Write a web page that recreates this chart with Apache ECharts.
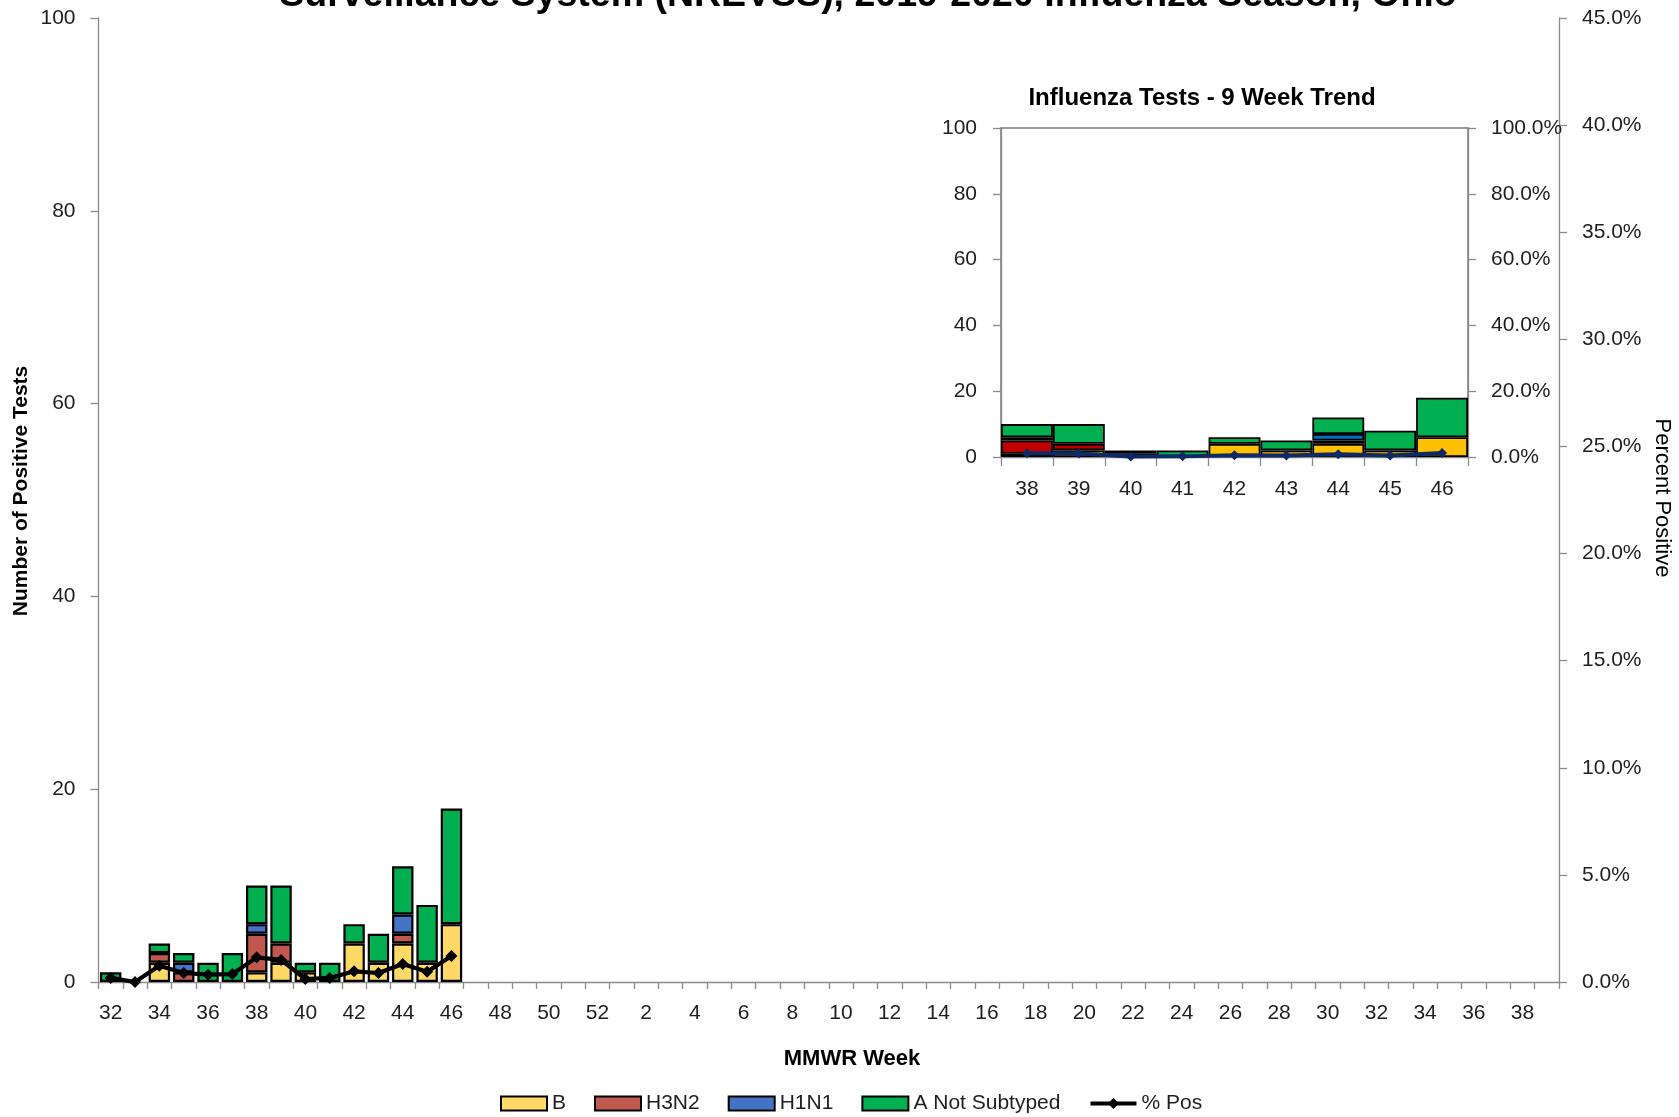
<!DOCTYPE html>
<html>
<head>
<meta charset="utf-8">
<script src="https://cdn.jsdelivr.net/npm/echarts@6/dist/echarts.min.js"></script>
<style>
html,body{margin:0;padding:0;background:#fff;}
#c{width:1679px;height:1117px;}
</style>
</head>
<body>
<div id="c"></div>
<script>
// ---- data ----
const weeks = ['32','33','34','35','36','37','38','39','40','41','42','43','44','45','46','47','48','49','50','51','52',
  '1','2','3','4','5','6','7','8','9','10','11','12','13','14','15','16','17','18','19','20',
  '21','22','23','24','25','26','27','28','29','30','31','32','33','34','35','36','37','38','39'];
const seriesNames = ['B', 'H3N2', 'H1N1', 'A Not Subtyped'];
const B      = [0, 0, 2, 0, 0, 0, 1, 2, 1, 0, 4, 2, 4, 2, 6];
const H3N2   = [0, 0, 1, 1, 0, 0, 4, 2, 0, 0, 0, 0, 1, 0, 0];
const H1N1   = [0, 0, 0, 1, 0, 0, 1, 0, 0, 0, 0, 0, 2, 0, 0];
const ANS    = [1, 0, 1, 1, 2, 3, 4, 6, 1, 2, 2, 3, 5, 6, 12];
const pctPos = [0.19, 0, 0.76, 0.42, 0.34, 0.37, 1.15, 1.03, 0.14, 0.19, 0.50, 0.42, 0.84, 0.48, 1.21];
const leftTicks  = {min: 0, max: 100, interval: 20};
const rightTicks = {min: 0, max: 45, interval: 5};
const insetStart = 6;   // index of week 38
const insetEnd   = 15;  // through week 46
const insetWeeks = weeks.slice(insetStart, insetEnd);

// ---- styles ----
const FONT = "'Liberation Sans', Arial, sans-serif";
const TXT = '#1e1e1e';
const AX = '#8a8a8a';
const mainColors  = ['#FFD966', '#C0584F', '#4472C4', '#00B050'];
const insetColors = ['#FFC000', '#C00000', '#0070C0', '#00B050'];
const noZero = arr => arr.map(v => (v === 0 ? '-' : v));
const valuesList = [B, H3N2, H1N1, ANS];

function axisBase(extra) {
  return Object.assign({
    axisLine: {show: true, lineStyle: {color: AX, width: 1.3}},
    axisTick: {show: true, length: 8, lineStyle: {color: AX, width: 1.3}},
    splitLine: {show: false},
    axisLabel: {fontSize: 21, color: TXT, fontFamily: FONT}
  }, extra);
}

const series = [];
seriesNames.forEach((n, i) => {
  series.push({
    name: n, type: 'bar', stack: 'main', xAxisIndex: 0, yAxisIndex: 0,
    barCategoryGap: '12%',
    data: noZero(valuesList[i]),
    itemStyle: {color: mainColors[i], borderColor: '#000', borderWidth: 2.2},
    emphasis: {disabled: true}
  });
});
series.push({
  name: '% Pos', type: 'line', xAxisIndex: 0, yAxisIndex: 1,
  data: pctPos, symbol: 'diamond', symbolSize: 12,
  itemStyle: {color: '#000'}, lineStyle: {color: '#000', width: 4.2}, z: 5,
  emphasis: {disabled: true}
});
seriesNames.forEach((n, i) => {
  series.push({
    name: n + ' (9 wk)', type: 'bar', stack: 'inset', xAxisIndex: 1, yAxisIndex: 2,
    barCategoryGap: '0%',
    data: noZero(valuesList[i].slice(insetStart, insetEnd)),
    itemStyle: {color: insetColors[i], borderColor: '#000', borderWidth: 1.8},
    emphasis: {disabled: true}
  });
});
series.push({
  name: '% Pos (9 wk)', type: 'line', xAxisIndex: 1, yAxisIndex: 3,
  data: pctPos.slice(insetStart, insetEnd), symbol: 'diamond', symbolSize: 10,
  itemStyle: {color: '#0E2A66'}, lineStyle: {color: '#0E2A66', width: 4}, z: 5,
  emphasis: {disabled: true}
});

const option = {
  animation: false,
  backgroundColor: '#fff',
  textStyle: {fontFamily: FONT},
  grid: [
    {left: 98.5, right: 120, top: 18, bottom: 135},
    {left: 1001, right: 211, top: 128, bottom: 660, show: true, borderColor: '#7a7a7a', borderWidth: 1.5, backgroundColor: 'rgba(255,255,255,0)'}
  ],
  xAxis: [
    axisBase({gridIndex: 0, type: 'category', data: weeks,
      axisTick: {show: true, interval: 0, length: 7, lineStyle: {color: AX, width: 1.3}},
      axisLabel: {interval: 1, margin: 21, fontSize: 21, color: TXT, fontFamily: FONT}}),
    axisBase({gridIndex: 1, type: 'category', data: insetWeeks,
      axisTick: {show: true, interval: 0, length: 9, lineStyle: {color: AX, width: 1.3}},
      axisLabel: {interval: 0, margin: 22, fontSize: 21, color: TXT, fontFamily: FONT}})
  ],
  yAxis: [
    axisBase({gridIndex: 0, type: 'value', position: 'left', min: leftTicks.min, max: leftTicks.max, interval: leftTicks.interval,
      axisLabel: {margin: 23, fontSize: 21, color: TXT, fontFamily: FONT}}),
    axisBase({gridIndex: 0, type: 'value', position: 'right', min: rightTicks.min, max: rightTicks.max, interval: rightTicks.interval,
      axisLabel: {margin: 23, fontSize: 21, color: TXT, fontFamily: FONT, formatter: v => v.toFixed(1) + '%'}}),
    axisBase({gridIndex: 1, type: 'value', position: 'left', min: leftTicks.min, max: leftTicks.max, interval: leftTicks.interval,
      axisLabel: {margin: 24, fontSize: 21, color: TXT, fontFamily: FONT}}),
    axisBase({gridIndex: 1, type: 'value', position: 'right', min: 0, max: 100, interval: 20,
      axisLabel: {margin: 23, fontSize: 21, color: TXT, fontFamily: FONT, formatter: v => v.toFixed(1) + '%'}})
  ],
  legend: {
    data: [
      {name: 'B', icon: 'rect'}, {name: 'H3N2', icon: 'rect'}, {name: 'H1N1', icon: 'rect'},
      {name: 'A Not Subtyped', icon: 'rect'}, {name: '% Pos', lineStyle: {width: 4}}
    ],
    left: 500, top: 1093, padding: 0,
    itemWidth: 46, itemHeight: 14, itemGap: 28,
    textStyle: {fontSize: 21, color: TXT, fontFamily: FONT},
    selectedMode: false
  },
  graphic: [
    {type: 'text', x: 868, y: -4, style: {text: 'Surveillance System (NREVSS), 2019-2020 Influenza Season, Ohio',
      font: "bold 37.5px 'Liberation Sans', Arial, sans-serif", fill: '#000', textAlign: 'center', textVerticalAlign: 'middle', align: 'center', verticalAlign: 'middle'}},
    {type: 'text', x: 1202, y: 98, style: {text: 'Influenza Tests - 9 Week Trend',
      font: "bold 24px 'Liberation Sans', Arial, sans-serif", fill: '#000', textAlign: 'center', textVerticalAlign: 'middle', align: 'center', verticalAlign: 'middle'}},
    {type: 'text', x: 21, y: 491, rotation: Math.PI / 2, style: {text: 'Number of Positive Tests',
      font: "bold 21px 'Liberation Sans', Arial, sans-serif", fill: '#000', textAlign: 'center', textVerticalAlign: 'middle', align: 'center', verticalAlign: 'middle'}},
    {type: 'text', x: 1662, y: 498, rotation: -Math.PI / 2, style: {text: 'Percent Positive',
      font: "22px 'Liberation Sans', Arial, sans-serif", fill: '#000', textAlign: 'center', textVerticalAlign: 'middle', align: 'center', verticalAlign: 'middle'}},
    {type: 'text', x: 852, y: 1059, style: {text: 'MMWR Week',
      font: "bold 22px 'Liberation Sans', Arial, sans-serif", fill: '#000', textAlign: 'center', textVerticalAlign: 'middle', align: 'center', verticalAlign: 'middle'}}
  ],
  series: series
};

const chart = echarts.init(document.getElementById('c'), null, {renderer: 'canvas'});
chart.setOption(option);
</script>
</body>
</html>
